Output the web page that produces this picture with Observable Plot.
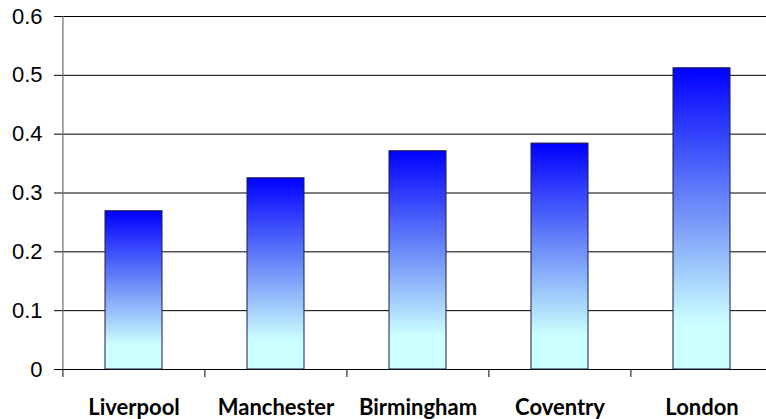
<!DOCTYPE html>
<html>
<head>
<meta charset="utf-8">
<script src="https://cdn.jsdelivr.net/npm/d3@7"></script>
<script src="https://cdn.jsdelivr.net/npm/@observablehq/plot@0.6"></script>
<style>
  html, body { margin: 0; padding: 0; background: #fff; }
  #chart svg { display: block; }
</style>
</head>
<body>
<div id="chart"></div>
<script>
const cities = ["Liverpool", "Manchester", "Birmingham", "Coventry", "London"];
const values = [0.269, 0.325, 0.371, 0.384, 0.512];
const yTicks = [0, 0.1, 0.2, 0.3, 0.4, 0.5, 0.6];
const yTickLabels = ["0", "0.1", "0.2", "0.3", "0.4", "0.5", "0.6"];

const data = cities.map((c, i) => ({city: c, value: values[i]}));

const W = 766, H = 419, ML = 62, MR = -7, MT = 16, MB = 50;
const step = (W - MR - ML) / cities.length;

const chart = Plot.plot({
  width: W,
  height: H,
  marginLeft: ML,
  marginRight: MR,
  marginTop: MT,
  marginBottom: MB,
  style: {background: "#fff", overflow: "hidden"},
  x: {domain: cities, paddingInner: 0.6, paddingOuter: 0.3, label: null},
  y: {domain: [0, 0.6], label: null},
  marks: [
    Plot.ruleY(yTicks, {stroke: "#000", strokeWidth: 1}),
    Plot.barY(data, {x: "city", y: "value", fill: "url(#barGrad)", stroke: "#1c1c3a", strokeWidth: 1}),
    Plot.ruleX(cities, {x: d => d, y1: 0, y2: 0, insetBottom: -8, dx: -step / 2, stroke: "#000"}),
    Plot.ruleX([0], {x: () => cities[0], dx: -step / 2, stroke: "#6b6b6b", strokeWidth: 1.2}),
    Plot.axisY({
      ticks: yTicks,
      tickFormat: (d) => yTickLabels[yTicks.indexOf(d)],
      tickSize: 8,
      tickPadding: 12,
      fontSize: 22,
      fontFamily: "Liberation Sans, Arial, sans-serif",
      fill: "#000",
      stroke: "#000"
    }),
    Plot.axisX({
      tickSize: 0,
      tickPadding: 30,
      fontSize: 22,
      fontWeight: "bold",
      fontFamily: "Lato, 'Open Sans', sans-serif",
      fill: "#000"
    })
  ]
});

const defs = d3.select(chart).insert("defs", ":first-child");
const grad = defs.append("linearGradient")
  .attr("id", "barGrad").attr("x1", 0).attr("y1", 0).attr("x2", 0).attr("y2", 1);
grad.append("stop").attr("offset", "0%").attr("stop-color", "#0000ff");
grad.append("stop").attr("offset", "45%").attr("stop-color", "#6a88f8");
grad.append("stop").attr("offset", "85%").attr("stop-color", "#ccffff");
grad.append("stop").attr("offset", "100%").attr("stop-color", "#ccffff");

document.getElementById("chart").appendChild(chart);
</script>
</body>
</html>
